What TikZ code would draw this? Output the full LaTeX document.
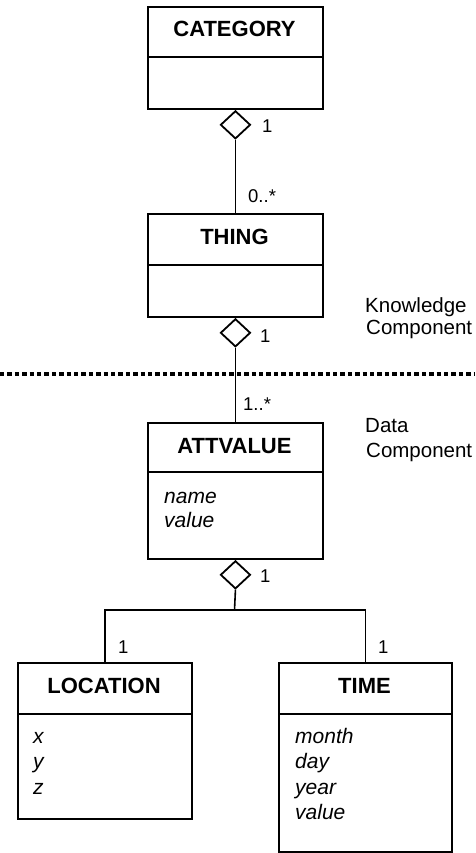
\documentclass[tikz,border=0pt]{standalone}
\usepackage{fontspec}
\setmainfont{Liberation Sans}
\usetikzlibrary{shapes.geometric}

\tikzset{
  classbox/.style={draw, line width=1.9pt, anchor=north west, inner sep=0pt},
  divider/.style={line width=1.7pt},
  classtitle/.style={anchor=base, inner sep=0pt, font=\fontsize{22}{26}\selectfont\bfseries},
  attr/.style={anchor=base west, inner sep=0pt, font=\fontsize{21}{25}\selectfont\itshape},
  mult/.style={anchor=base west, inner sep=0pt, font=\fontsize{18.5}{22}\selectfont},
  side/.style={anchor=base west, inner sep=0pt, font=\fontsize{20.5}{25}\selectfont},
  aggr/.style={draw, diamond, line width=1.8pt, inner sep=0pt, minimum width=30pt, minimum height=28pt, anchor=north, fill=white},
  link/.style={line width=1.6pt},
  sepline/.style={line width=3.2pt, dash pattern=on 4.4pt off 3pt}
}

\begin{document}
\begin{tikzpicture}[x=1pt, y=-1pt]
\useasboundingbox[fill=white] (0,0) rectangle (475,853);

% class boxes
\node[classbox, minimum width=175pt, minimum height=102pt] (cat) at (147,6) {};
\node[classbox, minimum width=175pt, minimum height=103pt] (thing) at (147,213) {};
\node[classbox, minimum width=175pt, minimum height=136pt] (att) at (147,422) {};
\node[classbox, minimum width=174pt, minimum height=156pt] (loc) at (17,662) {};
\node[classbox, minimum width=173pt, minimum height=189pt] (time) at (278,662) {};

% compartment dividers
\draw[divider] ([yshift=-51pt]cat.north west) -- ([yshift=-51pt]cat.north east);
\draw[divider] ([yshift=-52pt]thing.north west) -- ([yshift=-52pt]thing.north east);
\draw[divider] ([yshift=-50pt]att.north west) -- ([yshift=-50pt]att.north east);
\draw[divider] ([yshift=-52pt]loc.north west) -- ([yshift=-52pt]loc.north east);
\draw[divider] ([yshift=-52pt]time.north west) -- ([yshift=-52pt]time.north east);

% class names
\node[classtitle] (catname) at (234.5,37) {CATEGORY};
\node[classtitle] (thingname) at (234.5,244) {THING};
\node[classtitle] (attname) at (234.5,453) {ATTVALUE};
\node[classtitle] (locname) at (104,693) {LOCATION};
\node[classtitle] (timename) at (364.5,693) {TIME};

% attributes
\node[attr] (aname) at (164,503) {name};
\node[attr] (avalue) at (164,527) {value};
\node[attr] (lx) at (33,743) {x};
\node[attr] (ly) at (33,768) {y};
\node[attr] (lz) at (33,794) {z};
\node[attr] (tmonth) at (295,743) {month};
\node[attr] (tday) at (295,768) {day};
\node[attr] (tyear) at (295,794) {year};
\node[attr] (tvalue) at (295,819) {value};

% aggregation diamonds
\node[aggr] (d1) at (cat.south) {};
\node[aggr] (d2) at (thing.south) {};
\node[aggr] (d3) at (att.south) {};

% associations
\coordinate (jn) at (234.5,610);
\draw[link] (d1.south) -- (thing.north);
\draw[link] (d2.south) -- (att.north);
\draw[link] (d3.south) -- (jn);
\draw[link] (loc.north) |- (jn) -| (time.north);

% multiplicities
\node[mult] (m1) at (262,133) {1};
\node[mult] (m2) at (248,202) {0..*};
\node[mult] (m3) at (260,342) {1};
\node[mult] (m4) at (243,410) {1..*};
\node[mult] (m5) at (260,582) {1};
\node[mult] (m6) at (118,653) {1};
\node[mult] (m7) at (378,653) {1};

% component separator
\coordinate (sl) at (0,374);
\coordinate (sr) at (475,374);
\draw[sepline] (sl) -- (sr);

% component labels
\node[side] (k1) at (365,312) {Knowledge};
\node[side] (k2) at (366,334) {Component};
\node[side] (c1) at (365,432) {Data};
\node[side] (c2) at (366,457) {Component};
\end{tikzpicture}
\end{document}
